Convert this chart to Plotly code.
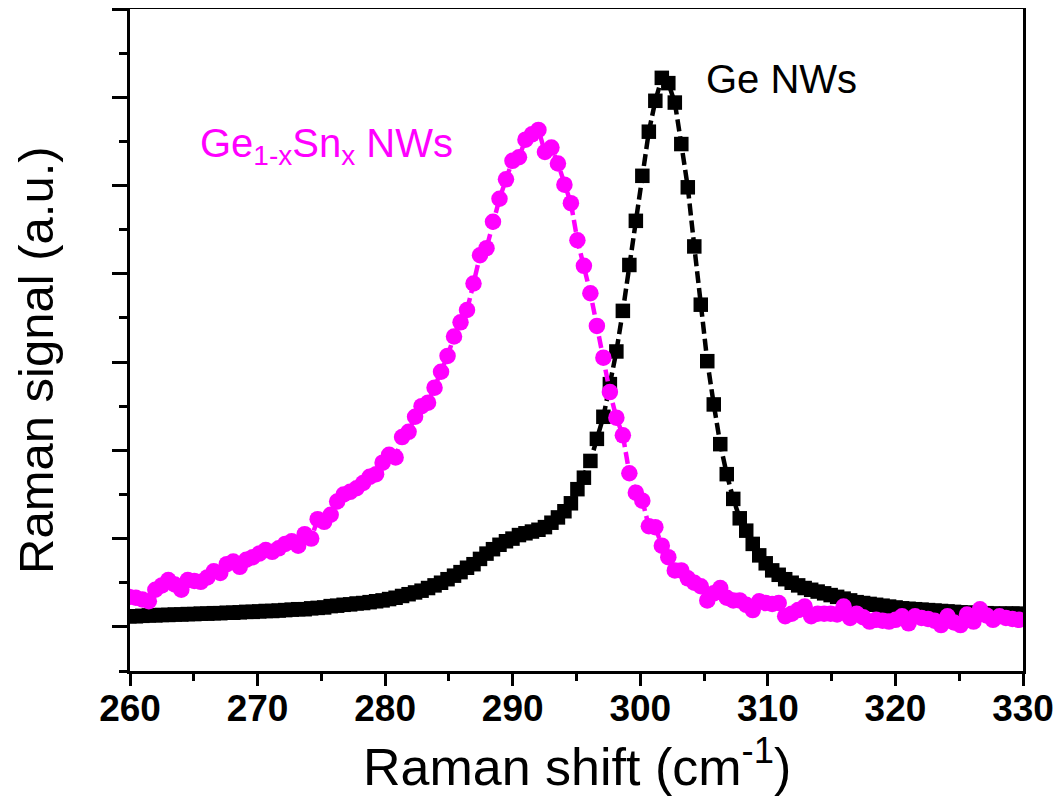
import numpy as np
import plotly.graph_objects as go

# Raman shift grid (instrument sampling)
X_START = 259.95
X_STEP = 0.509
N_POINTS = 138
raman_shift = [round(X_START + X_STEP * i, 3) for i in range(N_POINTS)]

# Ge NWs (black squares)
ge_signal = [
    0.12, 0.12, 0.125, 0.13, 0.13, 0.135, 0.135, 0.14, 0.14, 0.145,
    0.145, 0.15, 0.15, 0.155, 0.155, 0.16, 0.16, 0.165, 0.17, 0.17,
    0.175, 0.18, 0.18, 0.185, 0.19, 0.195, 0.2, 0.2, 0.21, 0.215,
    0.22, 0.235, 0.24, 0.25, 0.255, 0.265, 0.27, 0.28, 0.29, 0.30,
    0.315, 0.33, 0.35, 0.37, 0.39, 0.41, 0.44, 0.47, 0.50, 0.54,
    0.58, 0.62, 0.67, 0.71, 0.77, 0.83, 0.88, 0.93, 0.97, 1.00,
    1.04, 1.06, 1.08, 1.10, 1.13, 1.18, 1.24, 1.31, 1.40, 1.56,
    1.69, 1.88, 2.13, 2.38, 2.75, 3.12, 3.58, 4.10, 4.60, 5.11,
    5.61, 5.96, 6.22, 6.16, 5.94, 5.47, 4.98, 4.31, 3.65, 3.01,
    2.52, 2.07, 1.73, 1.45, 1.23, 1.09, 0.94, 0.81, 0.72, 0.64,
    0.59, 0.54, 0.50, 0.47, 0.44, 0.42, 0.40, 0.38, 0.36, 0.34,
    0.32, 0.30, 0.28, 0.27, 0.26, 0.25, 0.24, 0.23, 0.22, 0.21,
    0.205, 0.20, 0.195, 0.19, 0.185, 0.18, 0.175, 0.17, 0.165, 0.16,
    0.16, 0.155, 0.155, 0.15, 0.15, 0.15, 0.15, 0.15,
]

# Ge1-xSnx NWs (magenta circles)
gesn_signal = [
    0.34, 0.33, 0.31, 0.29, 0.42, 0.47, 0.53, 0.48, 0.42, 0.53,
    0.52, 0.51, 0.56, 0.63, 0.61, 0.71, 0.74, 0.68, 0.76, 0.79,
    0.83, 0.87, 0.85, 0.89, 0.94, 0.97, 0.92, 1.05, 1.00, 1.22,
    1.19, 1.27, 1.42, 1.50, 1.53, 1.57, 1.63, 1.70, 1.73, 1.86,
    1.95, 1.92, 2.15, 2.21, 2.38, 2.50, 2.54, 2.71, 2.89, 3.07,
    3.29, 3.45, 3.59, 3.89, 4.21, 4.29, 4.59, 4.85, 5.07, 5.28,
    5.32, 5.52, 5.58, 5.63, 5.38, 5.43, 5.25, 5.01, 4.80, 4.38,
    4.09, 3.78, 3.41, 3.05, 2.66, 2.37, 2.17, 1.74, 1.52, 1.43,
    1.14, 1.13, 0.92, 0.79, 0.64, 0.64, 0.55, 0.50, 0.46, 0.30,
    0.38, 0.44, 0.33, 0.30, 0.30, 0.25, 0.19, 0.29, 0.27, 0.26,
    0.27, 0.12, 0.15, 0.19, 0.23, 0.12, 0.15, 0.15, 0.15, 0.14,
    0.23, 0.10, 0.15, 0.11, 0.06, 0.08, 0.07, 0.06, 0.08, 0.12,
    0.04, 0.12, 0.10, 0.09, 0.07, 0.02, 0.12, 0.05, 0.02, 0.14,
    0.06, 0.20, 0.13, 0.08, 0.12, 0.10, 0.09, 0.08,
]

x_ticks = [260, 270, 280, 290, 300, 310, 320, 330]

BLACK = "#000000"
MAGENTA = "#FF00FF"
FONT = "Liberation Sans, Arial, sans-serif"

fig = go.Figure()
fig.add_trace(go.Scatter(
    x=raman_shift, y=ge_signal, mode="lines+markers", name="Ge NWs",
    line=dict(color=BLACK, width=4.5, dash="12px,5px"),
    marker=dict(symbol="square", size=14.5, color=BLACK),
))
fig.add_trace(go.Scatter(
    x=raman_shift, y=gesn_signal, mode="lines+markers", name="Ge1-xSnx NWs",
    line=dict(color=MAGENTA, width=4.5, dash="12px,5px"),
    marker=dict(symbol="circle", size=16.5, color=MAGENTA),
))

# series labels
fig.add_annotation(x=311.05, y=6.21, xref="x", yref="y", text="Ge NWs",
                   showarrow=False, font=dict(family=FONT, size=40, color=BLACK))
fig.add_annotation(x=275.4, y=5.45, xref="x", yref="y",
                   text="Ge<sub>1-x</sub>Sn<sub>x</sub> NWs",
                   showarrow=False, font=dict(family=FONT, size=40, color=MAGENTA))

# axis titles
fig.add_annotation(x=0.5, y=0, xref="paper", yref="paper", xanchor="center", yanchor="middle",
                   yshift=-92, text="Raman shift (cm<sup>-1</sup>)", showarrow=False,
                   font=dict(family=FONT, size=52, color=BLACK))
fig.add_annotation(x=0, y=0.5, xref="paper", yref="paper", xanchor="center", yanchor="middle",
                   xshift=-94, yshift=-20, textangle=-90, text="Raman signal (a.u.)", showarrow=False,
                   font=dict(family=FONT, size=49, color=BLACK))

fig.update_layout(
    width=1056, height=788,
    margin=dict(l=122, r=41, t=1, b=125, autoexpand=False),
    paper_bgcolor="white", plot_bgcolor="white",
    showlegend=False,
    font=dict(family=FONT, color=BLACK),
)
fig.update_xaxes(
    range=[260, 330], tickvals=x_ticks, ticktext=[str(v) for v in x_ticks],
    showgrid=False, zeroline=False, automargin=False,
    showline=True, linecolor=BLACK, linewidth=3, mirror=True,
    ticks="outside", ticklen=12, tickwidth=3, tickcolor=BLACK,
    minor=dict(dtick=5, tick0=260, ticks="outside", ticklen=7, tickwidth=3, tickcolor=BLACK),
    tickfont=dict(family=FONT, size=37, color=BLACK, weight="bold"),
    ticklabelstandoff=-9,
)
fig.update_yaxes(
    range=[-0.5, 7], dtick=1, tick0=0, showticklabels=False,
    showgrid=False, zeroline=False, automargin=False,
    showline=True, linecolor=BLACK, linewidth=3, mirror=True,
    ticks="outside", ticklen=15, tickwidth=3, tickcolor=BLACK,
    minor=dict(dtick=0.5, tick0=0, ticks="outside", ticklen=8, tickwidth=3, tickcolor=BLACK),
)

fig.write_html("out.html")
